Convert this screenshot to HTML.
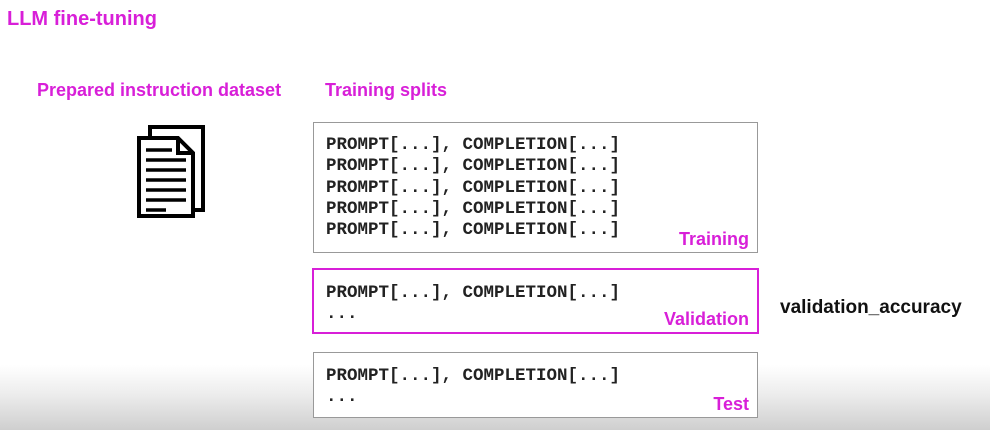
<!DOCTYPE html>
<html><head><style>
body{margin:0;width:990px;height:430px;position:relative;overflow:hidden;font-family:"Liberation Sans",sans-serif;background:linear-gradient(to bottom,#fff 0,#fff 365px,#ececec 395px,#cfcfcf 430px);}
.m{color:#d81fd8;font-weight:bold;position:absolute;font-size:18px;white-space:nowrap}
.box{position:absolute;left:313px;width:443px;background:#fff;border:1px solid #999;}
.code{position:absolute;left:12px;font-family:"Liberation Mono",monospace;font-weight:bold;font-size:17.5px;line-height:21.3px;color:#222;white-space:pre}
.lab{position:absolute;right:8px;bottom:2px;color:#d81fd8;font-weight:bold;font-size:18px}
</style></head><body>
<div class="m" style="left:7px;top:8px;font-size:20px">LLM fine-tuning</div>
<div class="m" style="left:37px;top:80px">Prepared instruction dataset</div>
<div class="m" style="left:325px;top:80px">Training splits</div>
<svg style="position:absolute;left:136px;top:124px" width="72" height="94">
<rect x="14" y="3" width="53" height="83" fill="#fff" stroke="#000" stroke-width="4"/>
<path d="M3 14 H42 L57 29 V92 H3 Z" fill="#fff" stroke="#000" stroke-width="4"/>
<path d="M42 14 V29 H57" fill="none" stroke="#000" stroke-width="4"/>
<g stroke="#000" stroke-width="3.5"><line x1="10" y1="26" x2="36" y2="26"/><line x1="10" y1="36" x2="50" y2="36"/><line x1="10" y1="46" x2="50" y2="46"/><line x1="10" y1="56" x2="50" y2="56"/><line x1="10" y1="66" x2="50" y2="66"/><line x1="10" y1="76" x2="50" y2="76"/><line x1="10" y1="86" x2="30" y2="86"/></g>
</svg>
<div class="box" style="top:122px;height:129px">
<div class="code" style="top:12px">PROMPT[...], COMPLETION[...]
PROMPT[...], COMPLETION[...]
PROMPT[...], COMPLETION[...]
PROMPT[...], COMPLETION[...]
PROMPT[...], COMPLETION[...]</div>
<div class="lab">Training</div></div>
<div class="box" style="top:268px;height:62px;border:2px solid #d81fd8;left:312px;width:443px">
<div class="code" style="top:13px">PROMPT[...], COMPLETION[...]
...</div>
<div class="lab">Validation</div></div>
<div class="box" style="top:352px;height:64px">
<div class="code" style="top:13px">PROMPT[...], COMPLETION[...]
...</div>
<div class="lab">Test</div></div>
<div style="position:absolute;left:780px;top:297px;font-weight:bold;font-size:19px;color:#111">validation_accuracy</div>
</body></html>
